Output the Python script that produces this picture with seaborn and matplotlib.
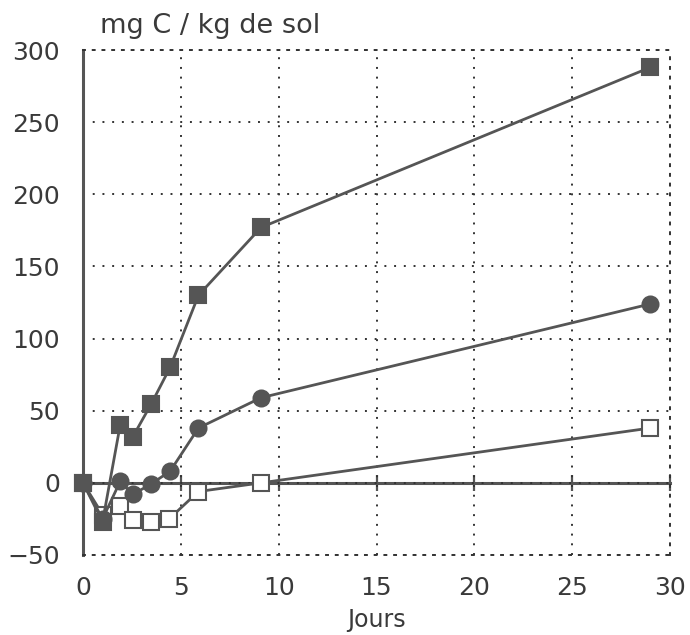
import matplotlib
matplotlib.use("Agg")
import matplotlib.pyplot as plt
import seaborn as sns
import pandas as pd

# Days of incubation and cumulative C values (mg C / kg de sol) per treatment
jours_carres_pleins = [0, 1.0, 1.9, 2.55, 3.5, 4.45, 5.9, 9.1, 29]
valeurs_carres_pleins = [0, -27, 40, 32, 55, 80, 130, 177, 288]

jours_cercles = [0, 1.0, 1.9, 2.55, 3.45, 4.45, 5.9, 9.1, 29]
valeurs_cercles = [0, -25, 1, -8, -1, 8, 38, 59, 124]

jours_carres_vides = [0, 1.0, 1.9, 2.55, 3.45, 4.4, 5.9, 9.1, 29]
valeurs_carres_vides = [0, -22, -16, -26, -27, -25, -6, 0, 38]

x_ticks = [0, 5, 10, 15, 20, 25, 30]
y_ticks = [-50, 0, 50, 100, 150, 200, 250, 300]

ink = "#555555"
text_col = "#3a3a3a"

sns.set_style("white")
plt.rcParams["font.family"] = ["DejaVu Sans"]

fig = plt.figure(figsize=(6.9, 6.35), dpi=100)
ax = fig.add_axes([83 / 690, 1 - 555 / 635, (670 - 83) / 690, (555 - 50) / 635])

series = [
    (jours_carres_vides, valeurs_carres_vides, "s", "white", 11.5),
    (jours_cercles, valeurs_cercles, "o", ink, 11.5),
    (jours_carres_pleins, valeurs_carres_pleins, "s", ink, 11.5),
]
for jours, vals, mk, face, ms in series:
    df = pd.DataFrame({"Jours": jours, "C": vals})
    sns.lineplot(data=df, x="Jours", y="C", ax=ax, color=ink, linewidth=2.0,
                 marker=mk, markersize=ms, markerfacecolor=face,
                 markeredgecolor=ink, markeredgewidth=1.5, clip_on=False,
                 zorder=5)

ax.set_xlim(0, 30)
ax.set_ylim(-50, 300)
ax.set_xticks(x_ticks)
ax.set_yticks(y_ticks)

# Dotted grid, dotted frame on top / right / bottom, solid left axis
dot = (0, (1, 4))
ax.grid(True, color="#333333", linestyle=dot, linewidth=1.4)
for side in ["top", "right", "bottom"]:
    ax.spines[side].set_linestyle(dot)
    ax.spines[side].set_linewidth(1.4)
    ax.spines[side].set_color("#333333")
ax.spines["left"].set_color(ink)
ax.spines["left"].set_linewidth(2.2)

ax.tick_params(axis="y", direction="inout", length=9, width=1.6, color=ink,
               labelsize=18, labelcolor=text_col, pad=12)
ax.tick_params(axis="x", length=0, labelsize=18, labelcolor=text_col, pad=15)
ax.set_yticklabels(["\u221250" if v < 0 else str(v) for v in y_ticks])

# Solid zero line carrying the day ticks
sec = ax.secondary_xaxis(50 / 350)
sec.set_xticks(x_ticks[1:])
sec.tick_params(axis="x", direction="inout", length=11, width=1.6, color=ink,
                labelbottom=False)
sec.spines["bottom"].set_color(ink)
sec.spines["bottom"].set_linewidth(2.2)

ax.set_xlabel("Jours", fontsize=17, color=text_col, labelpad=6)
ax.set_ylabel("")
fig.text(100 / 690, 1 - 26 / 635, "mg C / kg de sol", fontsize=19.5,
         color=text_col, va="center", ha="left")

fig.savefig("out.png", dpi=100, facecolor="white")
